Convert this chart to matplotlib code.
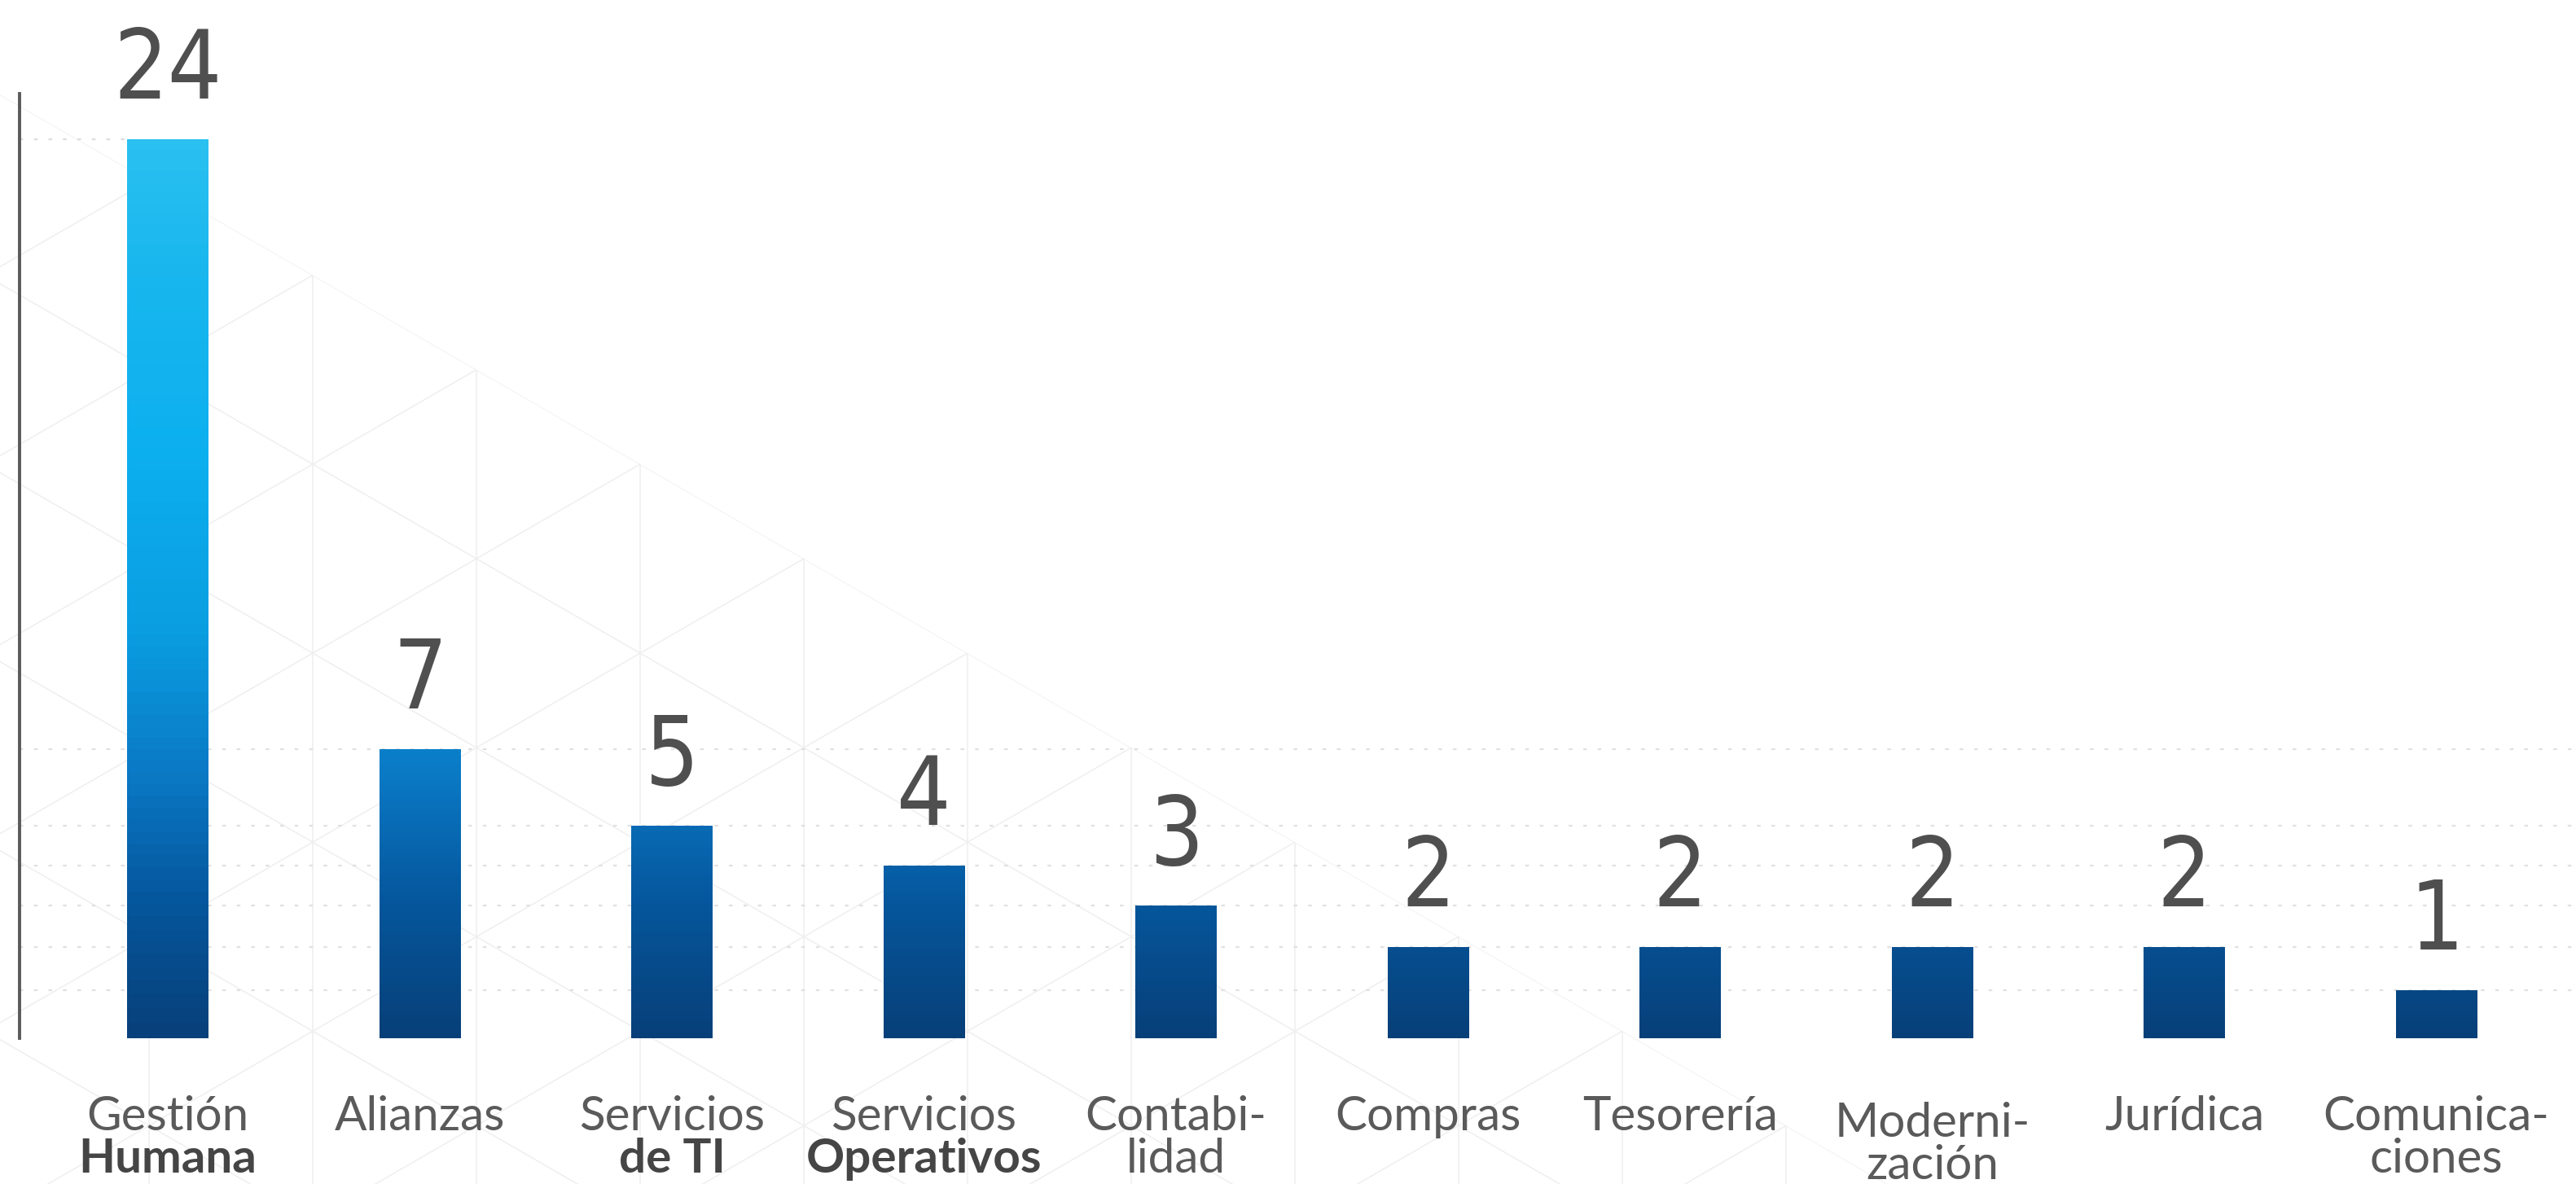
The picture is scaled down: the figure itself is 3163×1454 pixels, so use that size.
import matplotlib
matplotlib.use("Agg")
import matplotlib.pyplot as plt
import numpy as np
from matplotlib import font_manager
from matplotlib.colors import LinearSegmentedColormap
from matplotlib.collections import LineCollection
from matplotlib.patches import Polygon

areas = ["Gestión", "Alianzas", "Servicios", "Servicios", "Contabi-",
         "Compras", "Tesorería", "Moderni-", "Jurídica", "Comunica-"]
areas_2nd = ["Humana", "", "de TI", "Operativos", "lidad",
             "", "", "zación", "", "ciones"]
bold_2nd = [True, False, True, True, False, False, False, False, False, False]
counts = [24, 7, 5, 4, 3, 2, 2, 2, 2, 1]

W, H = 3163, 1454
ttf = font_manager.fontManager.ttflist
fonts = {f.name for f in ttf}

# narrow face for the big numbers, whatever is around
num_prop = dict(family="DejaVu Sans")
narrow = [f for f in ttf if "Condensed" in f.name or "Narrow" in f.name
          or f.stretch in ("condensed", "semi-condensed", "extra-condensed",
                           "ultra-condensed", 300, 200, 100)]
if narrow:
    f = narrow[0]
    num_prop = dict(family=f.name, stretch=f.stretch)
lab_font = "Lato" if "Lato" in fonts else "DejaVu Sans"

# slightly compressed value axis
P = 0.92
fwd = lambda v: np.sign(v) * np.abs(v) ** P
inv = lambda v: np.sign(v) * np.abs(v) ** (1 / P)

fig = plt.figure(figsize=(W / 100, H / 100), dpi=100)

# faint triangle texture behind the chart
bg = fig.add_axes([0, 0, 1, 1], zorder=0)
bg.set_xlim(0, W)
bg.set_ylim(H, 0)
bg.axis("off")
t30 = np.tan(np.radians(30))
step = 201
c0 = 454 - t30 * 585
segs = []
for k in range(-5, 20):
    x = 585 + k * step
    segs.append([(x, -100), (x, H + 100)])
for m in range(-10, 20):
    c = c0 + m * 2 * step * t30
    segs.append([(-100, c - 100 * t30), (W + 100, c + (W + 100) * t30)])
    c2 = 454 + t30 * 585 + m * 2 * step * t30
    segs.append([(-100, c2 + 100 * t30), (W + 100, c2 - (W + 100) * t30)])
lc = LineCollection(segs, colors="#efefef", linewidths=1.1)
bg.add_collection(lc)
clip = Polygon([(0, c0), ((H - c0) / t30, H), (0, H)], closed=True,
               transform=bg.transData, visible=False)
bg.add_patch(clip)
lc.set_clip_path(clip)

# main axes
base_y = 1275
top_y = 115
ax = fig.add_axes([24 / W, (H - base_y) / H, 1 - 24 / W, (base_y - top_y) / H], zorder=1)
ax.patch.set_alpha(0)
ax.set_yscale("function", functions=(fwd, inv))
frac24 = (base_y - 171) / (base_y - top_y)
ytop = inv(fwd(24) / frac24)
ax.set_ylim(0, ytop)
spacing = 309.5
x = np.arange(len(counts))
ax.set_xlim(-(206 - 24) / spacing, (W - 206) / spacing)

for s in ["top", "right", "bottom"]:
    ax.spines[s].set_visible(False)
ax.spines["left"].set_color("#5a5a5a")
ax.spines["left"].set_linewidth(2.8)
ax.set_xticks([])
ax.set_yticks([])

bar_w = 100 / spacing

# dotted guides at each value
for v in sorted(set(counts)):
    if v == max(counts):
        ax.plot([ax.get_xlim()[0], x[0] - bar_w / 2], [v, v], color="#dcdcdc",
                lw=1.6, ls=(0, (2, 6)), zorder=1)
    else:
        ax.axhline(v, color="#e0e0e0", lw=1.6, ls=(0, (2, 6)), zorder=1)

grad = LinearSegmentedColormap.from_list("blues", [
    (0.00, "#073f78"), (0.15, "#05569c"), (0.30, "#0a7ac6"),
    (0.45, "#0a9de0"), (0.65, "#0cafee"), (0.85, "#18b6ee"), (1.00, "#2ac0f0")])
top_t = fwd(max(counts))

for xi, v in zip(x, counts):
    ys = np.linspace(0, v, 80)
    mid = (ys[:-1] + ys[1:]) / 2
    c = (fwd(mid) / top_t)[:, None]
    ax.pcolormesh([xi - bar_w / 2, xi + bar_w / 2], ys, c, cmap=grad,
                  vmin=0, vmax=1, shading="flat", zorder=2)
    ax.annotate(str(v), (xi, v), xytext=(0, 36), textcoords="offset points",
                ha="center", va="baseline", fontsize=84, color="#4f4f4f",
                weight="light", **num_prop)

# category labels, two lines each
for i, (a, b) in enumerate(zip(areas, areas_2nd)):
    dy = 8 if a == "Moderni-" else 0
    xf = (206 + i * spacing) / W
    fig.text(xf, (H - 1388 - dy) / H, a, ha="center", va="baseline",
             fontsize=42, color="#5a5a5a", family=lab_font, weight="normal")
    if b:
        fig.text(xf, (H - 1440 - dy) / H, b, ha="center", va="baseline",
                 fontsize=42, color="#454545" if bold_2nd[i] else "#5a5a5a",
                 family=lab_font, weight="bold" if bold_2nd[i] else "normal")

fig.savefig("out.png", dpi=100, facecolor="white")
